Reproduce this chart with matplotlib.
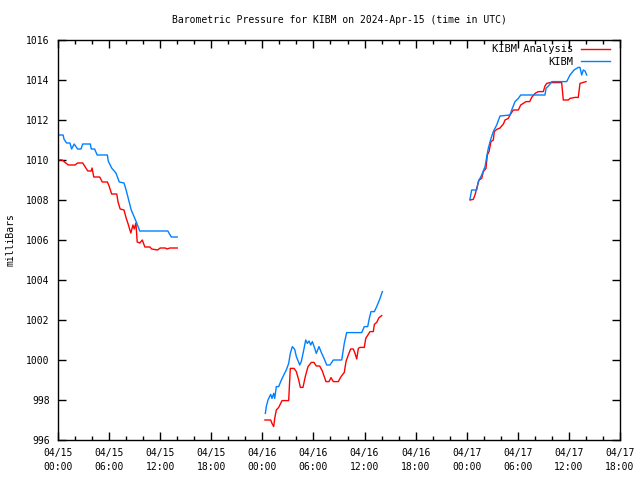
import matplotlib
matplotlib.use("Agg")
import matplotlib.pyplot as plt
import numpy as np

# hours since 2024-04-15 00:00 UTC, NaN breaks the gaps
analysis_hours = [
    0.0, 0.5, 1.2, 2.0, 2.3, 2.9, 3.2, 3.5, 3.9, 4.0, 4.2, 4.9, 5.2, 5.8, 6.0, 6.3, 6.9,
    7.05, 7.3, 7.75, 8.0, 8.2, 8.55, 8.7, 8.8, 8.95, 9.15, 9.3, 9.6, 9.9, 10.2, 10.8,
    11.0, 11.7, 12.0, 12.6, 12.8, 13.15, 14.0,
    np.nan,
    24.3, 24.98, 25.13, 25.33, 25.45, 25.64, 25.92, 26.31, 27.09, 27.21, 27.28, 27.72,
    27.99, 28.27, 28.46, 28.77, 29.04, 29.36, 29.75, 30.06, 30.33, 30.73, 31.04, 31.27,
    31.47, 31.83, 32.06, 32.33, 32.92, 33.24, 33.62, 33.82, 34.09, 34.37, 34.68, 34.88,
    35.08, 35.27, 35.47, 35.97, 36.14, 36.64, 37.03, 37.15, 37.43, 37.70, 38.02,
    np.nan,
    48.38, 48.77, 48.97, 49.17, 49.44, 49.76, 49.95, 50.26, 50.42, 50.62, 50.85, 51.12,
    51.24, 51.52, 51.91, 52.30, 52.50, 52.88, 53.08, 53.47, 54.06, 54.34, 54.96, 55.40,
    55.63, 56.02, 56.41, 56.99, 57.19, 57.39, 57.78, 59.15, 59.34, 59.93, 60.13, 60.72,
    61.10, 61.30, 61.62, 62.01,
]
analysis_mb = [
    1010.0, 1010.0, 1009.75, 1009.75, 1009.85, 1009.85, 1009.65, 1009.45, 1009.45, 1009.6,
    1009.15, 1009.15, 1008.9, 1008.9, 1008.7, 1008.3, 1008.3, 1007.9, 1007.55, 1007.5,
    1007.1, 1006.85, 1006.35, 1006.6, 1006.75, 1006.55, 1006.85, 1005.9, 1005.85, 1006.0,
    1005.65, 1005.65, 1005.55, 1005.5, 1005.6, 1005.6, 1005.55, 1005.6, 1005.6,
    np.nan,
    997.0, 997.0, 996.83, 996.67, 997.08, 997.5, 997.63, 997.97, 997.97, 999.0, 999.58,
    999.58, 999.42, 999.0, 998.63, 998.63, 999.17, 999.67, 999.88, 999.88, 999.7, 999.7,
    999.45, 999.17, 998.92, 998.92, 999.12, 998.92, 998.92, 999.17, 999.38, 999.92,
    1000.25, 1000.55, 1000.55, 1000.33, 1000.05, 1000.58, 1000.63, 1000.63, 1001.08,
    1001.42, 1001.42, 1001.78, 1001.88, 1002.12, 1002.22,
    np.nan,
    1008.0, 1008.03, 1008.25, 1008.58, 1009.0, 1009.08, 1009.42, 1009.58, 1010.25,
    1010.42, 1010.92, 1011.0, 1011.42, 1011.53, 1011.6, 1011.8, 1012.0, 1012.08, 1012.25,
    1012.5, 1012.5, 1012.75, 1012.92, 1012.92, 1013.13, 1013.33, 1013.42, 1013.42, 1013.7,
    1013.83, 1013.87, 1013.87, 1013.0, 1013.0, 1013.08, 1013.13, 1013.13, 1013.83,
    1013.87, 1013.92,
]

obs_hours = [
    0.0, 0.6, 0.7, 1.0, 1.4, 1.6, 1.9, 2.3, 2.7, 2.9, 3.8, 3.9, 4.3, 4.6, 5.8, 5.9, 6.3,
    6.8, 7.2, 7.75, 8.0, 8.6, 9.2, 9.6, 12.9, 13.3, 14.0,
    np.nan,
    24.35, 24.46, 24.66, 24.98, 25.13, 25.33, 25.45, 25.64, 25.92, 26.15, 26.42, 26.81,
    27.09, 27.28, 27.52, 27.80, 27.99, 28.39, 28.57, 28.86, 29.09, 29.28, 29.48, 29.68,
    29.87, 30.15, 30.33, 30.65, 30.97, 31.24, 31.56, 31.94, 32.33, 33.32, 33.62, 33.90,
    35.67, 35.97, 36.37, 36.56, 36.76, 37.15, 37.43, 37.82, 38.09,
    np.nan,
    48.38, 48.58, 49.17, 49.36, 49.76, 50.15, 50.35, 50.53, 50.85, 51.12, 51.52, 51.91,
    53.08, 53.28, 53.67, 54.06, 54.34, 57.19, 57.31, 57.70, 57.98, 59.74, 60.13, 60.60,
    61.10, 61.30, 61.50, 61.69, 61.89, 62.09,
]
obs_mb = [
    1011.25, 1011.25, 1011.05, 1010.85, 1010.85, 1010.55, 1010.8, 1010.55, 1010.55,
    1010.8, 1010.8, 1010.55, 1010.55, 1010.25, 1010.25, 1009.95, 1009.6, 1009.35, 1008.9,
    1008.85, 1008.5, 1007.5, 1006.9, 1006.45, 1006.45, 1006.15, 1006.15,
    np.nan,
    997.33, 997.67, 998.0, 998.28, 998.08, 998.33, 998.08, 998.67, 998.67, 998.92, 999.17,
    999.5, 999.83, 1000.33, 1000.67, 1000.53, 1000.17, 999.75, 999.92, 1000.5, 1001.0,
    1000.83, 1000.95, 1000.75, 1000.92, 1000.58, 1000.33, 1000.67, 1000.33, 1000.08,
    999.75, 999.75, 1000.0, 1000.0, 1000.83, 1001.37, 1001.37, 1001.67, 1001.67, 1002.08,
    1002.42, 1002.42, 1002.67, 1003.08, 1003.42,
    np.nan,
    1008.03, 1008.5, 1008.5, 1008.92, 1009.25, 1009.67, 1010.17, 1010.58, 1011.08,
    1011.42, 1011.75, 1012.2, 1012.25, 1012.5, 1012.92, 1013.08, 1013.25, 1013.25,
    1013.58, 1013.75, 1013.92, 1013.92, 1014.25, 1014.5, 1014.63, 1014.63, 1014.25,
    1014.5, 1014.45, 1014.25,
]

tick_hours = list(range(0, 67, 6))
tick_labels = ["04/15\n00:00", "04/15\n06:00", "04/15\n12:00", "04/15\n18:00",
               "04/16\n00:00", "04/16\n06:00", "04/16\n12:00", "04/16\n18:00",
               "04/17\n00:00", "04/17\n06:00", "04/17\n12:00", "04/17\n18:00"]

plt.rcParams['font.family'] = ['DejaVu Sans Mono']
plt.rcParams['font.size'] = 7

fig = plt.figure(figsize=(6.4, 4.8), dpi=100)
ax = fig.add_axes([58 / 640, 40 / 480, 562 / 640, 400 / 480])

ax.plot(analysis_hours, analysis_mb, color='#ff0000', linewidth=1, label='KIBM Analysis')
ax.plot(obs_hours, obs_mb, color='#0080ff', linewidth=1, label='KIBM')

ax.set_xlim(0, 66)
ax.set_ylim(996, 1016)
ax.set_xticks(tick_hours)
ax.set_xticklabels(tick_labels, linespacing=1.45)
ax.set_xticks(np.arange(0, 67, 2), minor=True)
ax.set_yticks(np.arange(996, 1017, 2))
ax.tick_params(which='both', direction='in', top=True, right=True, width=1, color='black')
ax.tick_params(which='major', length=6, pad=6)
ax.tick_params(which='minor', length=3)
for s in ax.spines.values():
    s.set_linewidth(1)

ax.set_ylabel('milliBars', labelpad=8)
ax.set_title('Barometric Pressure for KIBM on 2024-Apr-15 (time in UTC)', fontsize=7, pad=12)

ax.legend(loc='upper right', bbox_to_anchor=(1.0, 1.014), frameon=False, markerfirst=False,
          handlelength=2.8, handletextpad=0.7, borderaxespad=0.5, borderpad=0.46,
          labelspacing=0.25, fontsize=7.5)

fig.savefig('out.png', dpi=100)
